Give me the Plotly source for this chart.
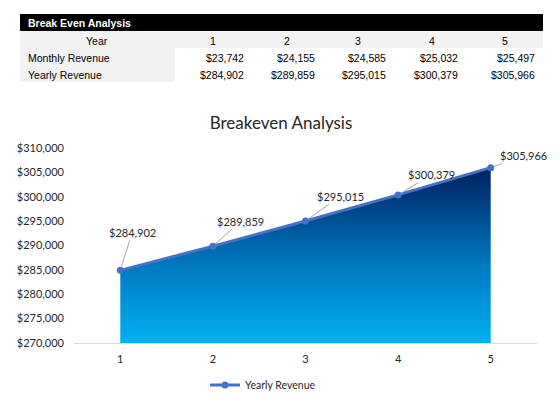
import plotly.graph_objects as go

# table / chart data
years = [1, 2, 3, 4, 5]
monthly_revenue = [23742, 24155, 24585, 25032, 25497]
yearly_revenue = [284902, 289859, 295015, 300379, 305966]
y_ticks = [270000, 275000, 280000, 285000, 290000, 295000, 300000, 305000, 310000]

W, H = 560, 407


def px(x):
    return x / W


def py(y):
    return 1 - y / H


fig = go.Figure()

# gradient area under the line
fig.add_trace(go.Scatter(
    x=years, y=yearly_revenue, mode="none", fill="tozeroy",
    fillgradient=dict(type="vertical", start=y_ticks[0], stop=yearly_revenue[-1],
                      colorscale=[[0, "#00b0f0"], [0.45, "#0078c0"], [1, "#002060"]]),
    showlegend=False, hoverinfo="skip",
))

fig.add_trace(go.Scatter(
    x=years, y=yearly_revenue, mode="lines+markers", name="Yearly Revenue",
    line=dict(color="#4472c4", width=3),
    marker=dict(color="#4472c4", size=7),
))

# data labels with leader lines
offsets = [(12, -38), (28, -25), (35, -25), (33, -20), (33, -12)]
for x, y, (ax, ay) in zip(years, yearly_revenue, offsets):
    fig.add_annotation(
        x=x, y=y, text=f"${y:,}", showarrow=True, arrowhead=0, arrowwidth=1,
        arrowcolor="#a6a6a6", ax=ax, ay=ay, standoff=3,
        font=dict(family="Lato", size=11, color="#262626"),
    )

# ---- table on top ----
shapes = [
    dict(type="rect", xref="paper", yref="paper", x0=px(20), x1=px(543), y0=py(31), y1=py(14),
         fillcolor="black", line_width=0, layer="below"),
    dict(type="rect", xref="paper", yref="paper", x0=px(20), x1=px(543), y0=py(48), y1=py(31),
         fillcolor="#f2f2f2", line_width=0, layer="below"),
    dict(type="rect", xref="paper", yref="paper", x0=px(20), x1=px(175), y0=py(82), y1=py(48),
         fillcolor="#f2f2f2", line_width=0, layer="below"),
]
fig.update_layout(shapes=shapes)

tfont = dict(family="Liberation Sans, Arial", size=10.5, color="black")
fig.add_annotation(x=px(26), y=py(23), xref="paper", yref="paper", text="<b>Break Even Analysis</b>",
                   showarrow=False, xanchor="left", yanchor="middle",
                   font=dict(family="Liberation Sans, Arial", size=10.5, color="white"))
fig.add_annotation(x=px(97), y=py(41), xref="paper", yref="paper", text="Year",
                   showarrow=False, xanchor="center", yanchor="middle", font=tfont)
fig.add_annotation(x=px(26), y=py(58), xref="paper", yref="paper", text="Monthly Revenue",
                   showarrow=False, xanchor="left", yanchor="middle", font=tfont)
fig.add_annotation(x=px(26), y=py(75), xref="paper", yref="paper", text="Yearly Revenue",
                   showarrow=False, xanchor="left", yanchor="middle", font=tfont)

col_right = [246, 317, 388, 460, 537]
col_center = [213, 287, 358, 432, 505]
for i, yr in enumerate(years):
    fig.add_annotation(x=px(col_center[i]), y=py(41), xref="paper", yref="paper", text=str(yr),
                       showarrow=False, xanchor="center", yanchor="middle", font=tfont)
    fig.add_annotation(x=px(col_right[i]), y=py(58), xref="paper", yref="paper",
                       text=f"${monthly_revenue[i]:,}", showarrow=False, xanchor="right",
                       yanchor="middle", font=tfont)
    fig.add_annotation(x=px(col_right[i]), y=py(75), xref="paper", yref="paper",
                       text=f"${yearly_revenue[i]:,}", showarrow=False, xanchor="right",
                       yanchor="middle", font=tfont)

fig.update_layout(
    width=W, height=H,
    margin=dict(l=0, r=0, t=0, b=0),
    paper_bgcolor="white", plot_bgcolor="white",
    font=dict(family="Lato", size=11, color="#262626"),
    title=dict(text="Breakeven Analysis", x=px(281), y=py(123), xanchor="center", yanchor="middle",
               xref="paper", yref="paper",
               font=dict(family="Lato", size=17, color="#262626")),
    xaxis=dict(domain=[px(74), px(537)], range=[0.5, 5.5], tickvals=years,
               showgrid=False, zeroline=False, showline=True, linecolor="#d9d9d9",
               ticks="", ticklabelstandoff=6, tickfont=dict(size=11, color="#262626")),
    yaxis=dict(domain=[py(343), py(148)], range=[y_ticks[0], y_ticks[-1]], tickvals=y_ticks,
               ticktext=[f"${v:,}" for v in y_ticks], showgrid=False, zeroline=False,
               showline=False, ticks="", ticklabelstandoff=9,
               tickfont=dict(size=11, color="#262626"), automargin=False),
    legend=dict(orientation="h", x=px(263), y=py(385), xanchor="center", yanchor="middle",
                font=dict(family="Lato", size=10.5, color="#262626")),
)

fig.write_html("out.html", config={"displayModeBar": False},
               post_script="document.body.style.margin='0';")
